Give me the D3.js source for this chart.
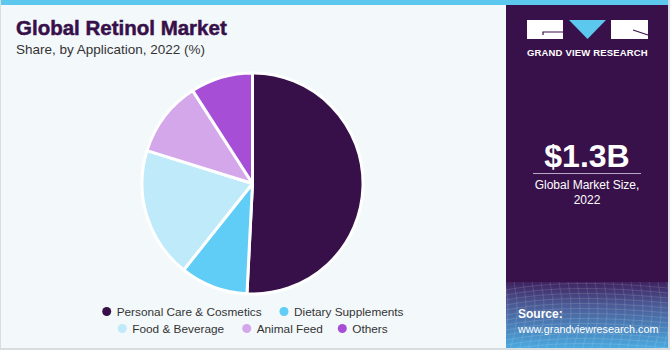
<!DOCTYPE html>
<html><head><meta charset="utf-8">
<script src="https://cdn.jsdelivr.net/npm/d3@7"></script>
<style>html,body{margin:0;padding:0;background:#fff;}svg{display:block;}</style>
</head><body>
<svg id="chart" width="670" height="350"></svg>
<script>
const categories = ["Personal Care & Cosmetics","Dietary Supplements","Food & Beverage","Animal Feed","Others"];
const shares = [50.8, 9.9, 19.1, 11.1, 9.1];
const colors = ["#37104a","#5fcdf5","#bfeaf9","#d3a7ea","#a64fd6"];
const titleText = "Global Retinol Market";
const subtitleText = "Share, by Application, 2022 (%)";
const marketValue = "$1.3B";
const marketLabel = ["Global Market Size,","2022"];

const svg = d3.select("#chart");
const font = "'Liberation Sans', Arial, sans-serif";

// backgrounds
svg.append("rect").attr("x",0).attr("y",0).attr("width",670).attr("height",350).attr("fill","#d9dde0");
svg.append("rect").attr("x",1).attr("y",0).attr("width",667).attr("height",348).attr("fill","#f3f8fb");
svg.append("rect").attr("x",1).attr("y",0).attr("width",667).attr("height",5).attr("fill","#5dc8ee");

// right panel
const px = 506, pw = 162;
svg.append("rect").attr("x",px).attr("y",5).attr("width",pw).attr("height",343).attr("fill","#39114a");
const defs = svg.append("defs");
const grad = defs.append("linearGradient").attr("id","bg").attr("x1",0).attr("y1",0).attr("x2",0).attr("y2",1);
grad.append("stop").attr("offset","0%").attr("stop-color","#3f2260");
grad.append("stop").attr("offset","35%").attr("stop-color","#4b5a95");
grad.append("stop").attr("offset","100%").attr("stop-color","#4aa9df");
svg.append("rect").attr("x",px).attr("y",282).attr("width",pw).attr("height",66).attr("fill","url(#bg)");
// mesh decoration
const clip = defs.append("clipPath").attr("id","pc");
clip.append("rect").attr("x",px).attr("y",282).attr("width",pw).attr("height",66);
const mesh = svg.append("g").attr("clip-path","url(#pc)").attr("stroke","#ffffff").attr("stroke-opacity",0.16).attr("fill","none").attr("stroke-width",0.8);
for(let i=0;i<14;i++){
  const y0 = 284 + i*5;
  mesh.append("path").attr("d",`M${px},${y0+6} Q${px+60},${y0-6} ${px+pw},${y0+4}`);
}
for(let i=0;i<22;i++){
  const x0 = px - 10 + i*9;
  mesh.append("path").attr("d",`M${x0},282 Q${x0+8},315 ${x0-4},350`);
}

// logo
const lg = svg.append("g");
lg.append("rect").attr("x",527).attr("y",20).attr("width",36).attr("height",19).attr("fill","#fff");
lg.append("path").attr("d","M543,35 L543,32 L563,32").attr("stroke","#39114a").attr("stroke-width",1.2).attr("fill","none");
lg.append("path").attr("d","M569,20 L606,20 L587.5,39 Z").attr("fill","#5dc8ee");
lg.append("rect").attr("x",611).attr("y",20).attr("width",37).attr("height",19).attr("fill","#fff");
lg.append("path").attr("d","M633,30 L648,35").attr("stroke","#39114a").attr("stroke-width",1.2);
svg.append("text").attr("x",587.5).attr("y",56).attr("text-anchor","middle").attr("fill","#fff")
  .attr("font-family",font).attr("font-weight","bold").attr("font-size",9.5).attr("letter-spacing",0.4)
  .attr("textLength",121).attr("lengthAdjust","spacing")
  .text("GRAND VIEW RESEARCH");

svg.append("text").attr("x",587).attr("y",167).attr("text-anchor","middle").attr("fill","#fff")
  .attr("font-family",font).attr("font-weight","bold").attr("font-size",32).text(marketValue);
svg.append("line").attr("x1",533).attr("x2",641).attr("y1",173.5).attr("y2",173.5).attr("stroke","#b9a9c6").attr("stroke-width",1.2);
marketLabel.forEach((t,i)=>{
  svg.append("text").attr("x",587).attr("y",189+i*15).attr("text-anchor","middle").attr("fill","#fff")
    .attr("font-family",font).attr("font-size",12).text(t);
});
svg.append("text").attr("x",518).attr("y",318).attr("fill","#fff").attr("font-family",font).attr("font-weight","bold").attr("font-size",12).text("Source:");
svg.append("text").attr("x",518).attr("y",333).attr("fill","#fff").attr("font-family",font).attr("font-size",10.8).text("www.grandviewresearch.com");

// title
svg.append("text").attr("x",16).attr("y",35).attr("fill","#37104a").attr("font-family",font).attr("font-weight","bold").attr("font-size",20.5).attr("stroke","#37104a").attr("stroke-width",0.5).text(titleText);
svg.append("text").attr("x",16).attr("y",54).attr("fill","#333").attr("font-family",font).attr("font-size",13.5).text(subtitleText);

// pie
const cx = 252.5, cy = 183.5, R = 110.5;
const pie = d3.pie().sort(null).value(d=>d)(shares);
const arc = d3.arc().innerRadius(0).outerRadius(R);
svg.append("g").attr("transform",`translate(${cx},${cy})`)
  .selectAll("path").data(pie).join("path")
  .attr("d",arc).attr("fill",(d,i)=>colors[i]).attr("stroke","#fff").attr("stroke-width",3).attr("stroke-linejoin","round");

// legend
const legendPos = [[106.7,311.5],[284,311.5],[122.3,328.5],[246.7,328.5],[342.3,328.5]];
const lgd = svg.append("g");
categories.forEach((c,i)=>{
  const [x,y] = legendPos[i];
  lgd.append("circle").attr("cx",x).attr("cy",y).attr("r",4.5).attr("fill",colors[i]);
  lgd.append("text").attr("x",x+10).attr("y",y+4.5).attr("fill","#333").attr("font-family",font).attr("font-size",11.8).text(c);
});
</script>
</body></html>
